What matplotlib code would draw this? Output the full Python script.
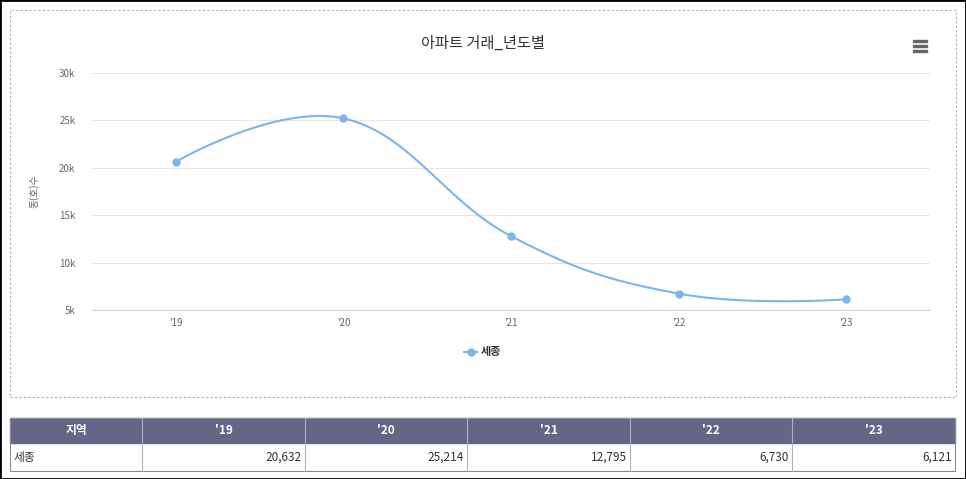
import numpy as np
import matplotlib
matplotlib.use("Agg")
import matplotlib.pyplot as plt
from matplotlib.patches import Rectangle

plt.rcParams['font.family'] = ['Noto Sans CJK KR', 'DejaVu Sans']

categories = ["'19", "'20", "'21", "'22", "'23"]
series_name = "세종"
values = [20632, 25214, 12795, 6730, 6121]
value_labels = ["20,632", "25,214", "12,795", "6,730", "6,121"]
yticks = [5000, 10000, 15000, 20000, 25000, 30000]
ytick_labels = ["5k", "10k", "15k", "20k", "25k", "30k"]
title = "아파트 거래_년도별"
ylabel = "동(호)수"
table_header = ["지역"] + categories

W, H = 966, 479
fig = plt.figure(figsize=(W/100, H/100), dpi=100)
def fx(px): return px / W
def fy(py): return 1 - py / H

# borders
fig.patches.append(Rectangle((0, 0), 1, 1, transform=fig.transFigure, fill=False, ec='black', lw=2))
fig.patches.append(Rectangle((fx(10), fy(397)), fx(946), (387)/H, transform=fig.transFigure,
                             fill=False, ec='#9db4cc', lw=0.8, ls=(0, (2, 2))))

ax = fig.add_axes([fx(92), fy(310), fx(838), (310-73)/H])
xs = np.arange(len(values), dtype=float)
ys = np.array(values, dtype=float)

# Highcharts-like spline
def spline(x, y, smooth=1.5, n=40):
    px, py = [x[0]], [y[0]]
    for i in range(len(x)-1):
        if i == 0:
            c1 = (x[0], y[0])
        else:
            lx = (smooth*x[i] + x[i-1])/(smooth+1); ly = (smooth*y[i] + y[i-1])/(smooth+1)
            rx = (smooth*x[i] + x[i+1])/(smooth+1); ry = (smooth*y[i] + y[i+1])/(smooth+1)
            cor = ((ry-ly)*(rx-x[i]))/(rx-lx) + y[i] - ry if rx != lx else 0
            c1 = (rx, ry + cor)
        if i == len(x)-2:
            c2 = (x[i+1], y[i+1])
        else:
            j = i+1
            lx = (smooth*x[j] + x[j-1])/(smooth+1); ly = (smooth*y[j] + y[j-1])/(smooth+1)
            rx = (smooth*x[j] + x[j+1])/(smooth+1); ry = (smooth*y[j] + y[j+1])/(smooth+1)
            cor = ((ry-ly)*(rx-x[j]))/(rx-lx) + y[j] - ry if rx != lx else 0
            c2 = (lx, ly + cor)
        t = np.linspace(0, 1, n)[1:]
        p0 = np.array([x[i], y[i]]); p1 = np.array(c1); p2 = np.array(c2); p3 = np.array([x[i+1], y[i+1]])
        pts = ((1-t)**3)[:, None]*p0 + (3*(1-t)**2*t)[:, None]*p1 + (3*(1-t)*t**2)[:, None]*p2 + (t**3)[:, None]*p3
        px += list(pts[:, 0]); py += list(pts[:, 1])
    return np.array(px), np.array(py)

sx, sy = spline(xs, ys)
color = '#7cb5ec'
ax.plot(sx, sy, color=color, lw=1.5)
ax.plot(xs, ys, 'o', color=color, ms=5)
ax.set_xlim(-0.5, len(values)-0.5)
ax.set_ylim(5000, 30000)
ax.set_yticks(yticks)
ax.set_yticklabels(ytick_labels, fontsize=7, color='#666666')
ax.set_xticks(xs)
ax.set_xticklabels(categories, fontsize=7, color='#666666')
ax.grid(axis='y', color='#e6e6e6', lw=0.8)
ax.set_axisbelow(True)
for s in ['top', 'right', 'left']:
    ax.spines[s].set_visible(False)
ax.spines['bottom'].set_color('#ccd6eb')
ax.tick_params(axis='y', length=0, pad=12)
ax.tick_params(axis='x', length=0, pad=6)
ax.set_ylabel(ylabel, fontsize=7, color='#666666', labelpad=14)

fig.text(fx(483), fy(43), title, ha='center', va='center', fontsize=11, color='#333333')
# hamburger
for dy in (-5, 0, 5):
    fig.patches.append(Rectangle((fx(913), fy(46+dy) - 1/H), fx(14), 2.5/H, transform=fig.transFigure, color='#666666'))
# legend
fig.lines.append(matplotlib.lines.Line2D([fx(464), fx(477)], [fy(352)]*2, transform=fig.transFigure, color=color, lw=1.5))
fig.lines.append(matplotlib.lines.Line2D([fx(470.5)], [fy(352)], transform=fig.transFigure, color=color, marker='o', ms=5))
fig.text(fx(481), fy(352), series_name, fontsize=8, va='center', color='#333333', fontweight='bold')

# table
x0, x1 = 10, 955
cols = [10, 142, 305, 467, 630, 792, 955]
top, mid, bot = 418, 443, 471
fig.patches.append(Rectangle((fx(x0), fy(mid)), fx(x1-x0), (mid-top)/H, transform=fig.transFigure, color='#636785'))
fig.patches.append(Rectangle((fx(x0), fy(bot)), fx(x1-x0), (bot-top)/H, transform=fig.transFigure, fill=False, ec='#8a8a9a', lw=0.8))
for c in cols[1:-1]:
    fig.lines.append(matplotlib.lines.Line2D([fx(c)]*2, [fy(top), fy(bot)], transform=fig.transFigure, color='#b0b0c0', lw=0.8))
for i, h in enumerate(table_header):
    fig.text(fx((cols[i]+cols[i+1])/2), fy((top+mid)/2), h, ha='center', va='center', color='white', fontsize=8.5, fontweight='bold')
fig.text(fx(14), fy((mid+bot)/2), series_name, ha='left', va='center', fontsize=8.5, color='#333333')
for i, v in enumerate(value_labels):
    fig.text(fx(cols[i+2]-3), fy((mid+bot)/2), v, ha='right', va='center', fontsize=8.5, color='#333333')

fig.savefig('out.png', dpi=100)
